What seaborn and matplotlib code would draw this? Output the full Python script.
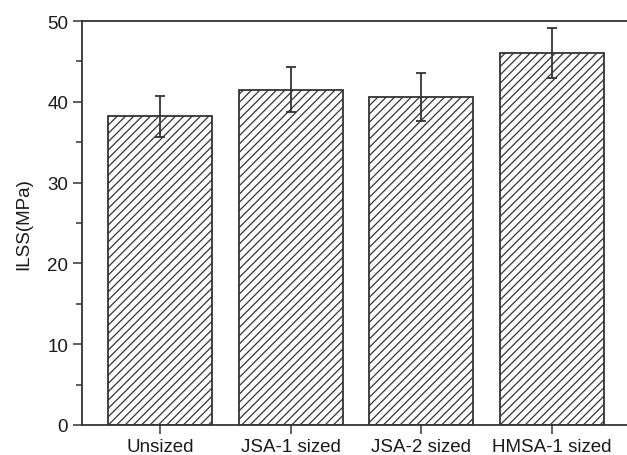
import matplotlib
matplotlib.use("Agg")
import matplotlib.pyplot as plt
import seaborn as sns
import pandas as pd

# Interlaminar shear strength of the composites
categories = ["Unsized", "JSA-1 sized", "JSA-2 sized", "HMSA-1 sized"]
ilss = [38.2, 41.5, 40.6, 46.0]
ilss_err = [2.5, 2.8, 3.0, 3.1]

sns.set_theme(style="ticks")
plt.rcParams["font.family"] = ["Liberation Sans", "DejaVu Sans"]
plt.rcParams["hatch.linewidth"] = 0.9
plt.rcParams["hatch.color"] = "#333333"

ink = "#333333"
df = pd.DataFrame({"sample": categories, "ILSS": ilss})

fig = plt.figure(figsize=(6.27, 4.56), dpi=100)
ax = fig.add_axes([82 / 627, 1 - 426 / 456, (630 - 82) / 627, (426 - 22) / 456])

sns.barplot(data=df, x="sample", y="ILSS", ax=ax, color="white",
            edgecolor=ink, linewidth=1.3, width=0.8, errorbar=None)
for p in ax.patches:
    p.set_hatch("////")
    p.set_facecolor("white")
    p.set_edgecolor(ink)

ax.errorbar(range(len(categories)), ilss, yerr=ilss_err, fmt="none",
            ecolor=ink, elinewidth=1.3, capsize=3.4, capthick=1.3, zorder=5)

ax.set_xlim(-0.6, 3.6)
ax.set_ylim(0, 50)
ax.set_yticks([0, 10, 20, 30, 40, 50])
ax.set_yticks([5, 15, 25, 35, 45], minor=True)
ax.set_xlabel("")
ax.set_ylabel("ILSS(MPa)", fontsize=13.5, color="#1a1a1a", labelpad=11)

ax.tick_params(axis="both", which="major", direction="out", length=6.5,
               width=1.1, color=ink, labelsize=13.5, labelcolor="#1a1a1a")
ax.tick_params(axis="y", which="minor", direction="out", length=4,
               width=1.1, color=ink)
ax.tick_params(axis="x", which="major", pad=3)

for side in ["left", "right", "top", "bottom"]:
    ax.spines[side].set_visible(True)
    ax.spines[side].set_color(ink)
    ax.spines[side].set_linewidth(1.3)

fig.savefig("out.png", dpi=100, facecolor="white")
